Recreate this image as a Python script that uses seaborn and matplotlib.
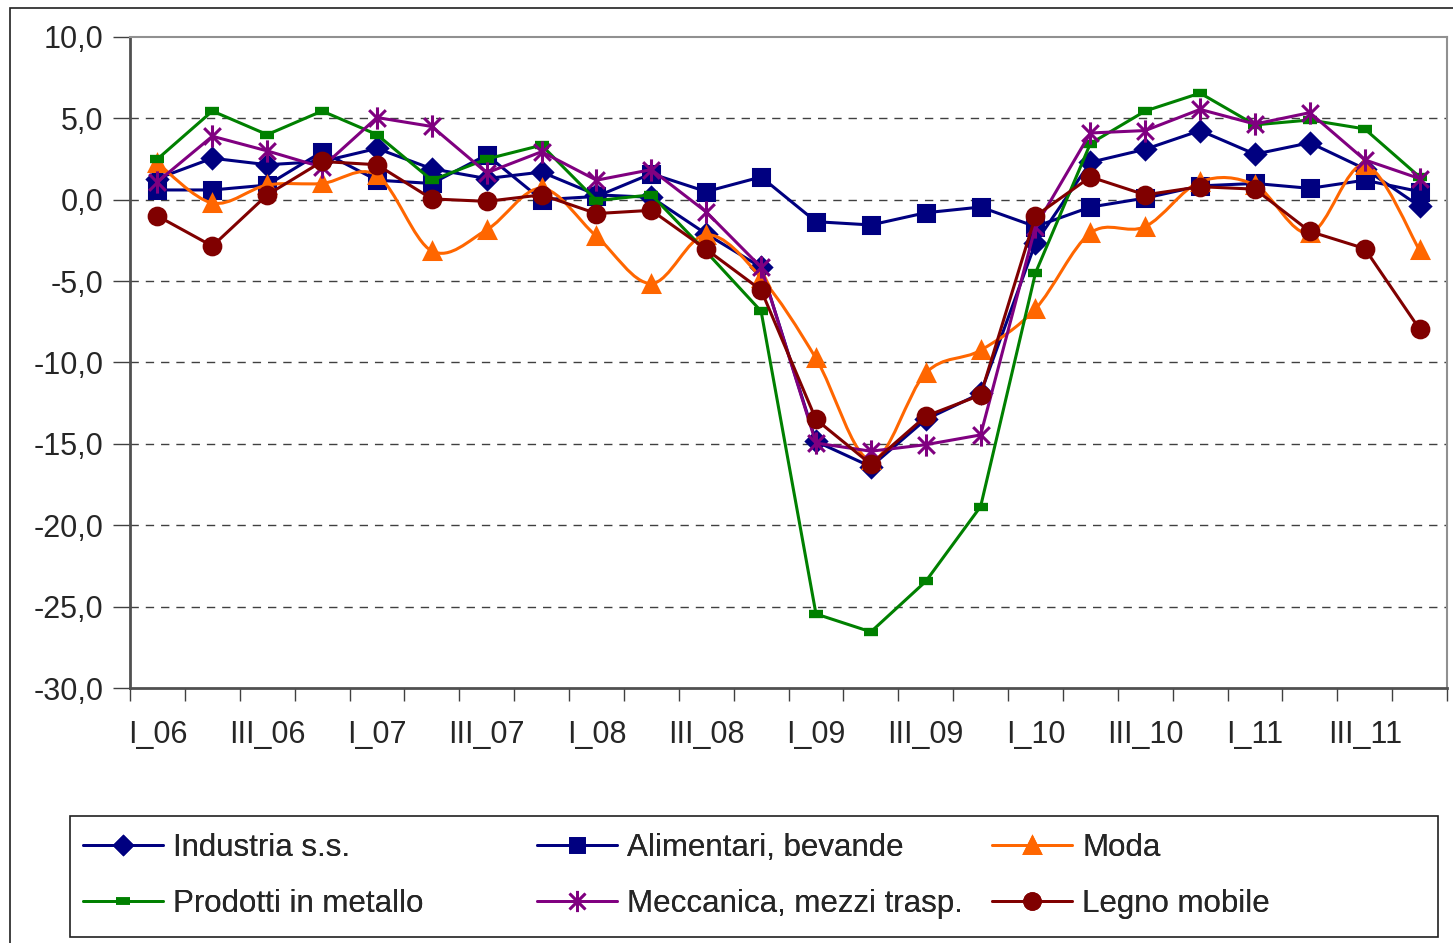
import numpy as np
import pandas as pd
import seaborn as sns
import matplotlib.pyplot as plt
from matplotlib.lines import Line2D
from matplotlib.patches import PathPatch, Rectangle
from matplotlib.path import Path
from matplotlib.ticker import FuncFormatter, FixedLocator

# quarters I_06 .. IV_11
quarters = [f"{q}_{y:02d}" for y in range(6, 12) for q in ["I", "II", "III", "IV"]]

industria = [1.3, 2.55, 2.15, 2.35, 3.15, 1.9, 1.3, 1.7, 0.3, 0.15, -2.1, -4.15,
             -14.85, -16.4, -13.5, -11.9, -2.65, 2.3, 3.1, 4.25, 2.8, 3.5, 1.9, -0.4]
alimentari = [0.6, 0.6, 0.9, 2.95, 1.2, 1.0, 2.75, 0.0, 0.2, 1.6, 0.5, 1.4,
              -1.35, -1.55, -0.8, -0.45, -1.65, -0.45, 0.1, 0.85, 1.0, 0.7, 1.2, 0.5]
moda = [2.25, -0.2, 0.9, 1.0, 1.5, -3.15, -1.85, 0.7, -2.25, -5.15, -2.15, -4.8,
        -9.75, -16.0, -10.65, -9.25, -6.7, -2.05, -1.65, 1.1, 0.9, -2.05, 2.15, -3.1]
prodotti = [2.5, 5.45, 4.0, 5.45, 4.0, 1.2, 2.5, 3.35, -0.05, 0.3, -3.2, -6.85,
            -25.45, -26.55, -23.45, -18.85, -4.5, 3.45, 5.45, 6.55, 4.6, 4.9, 4.35, 1.4]
meccanica = [1.1, 3.9, 3.0, 2.0, 5.05, 4.5, 1.65, 2.95, 1.2, 1.85, -0.75, -4.15,
             -14.95, -15.45, -15.05, -14.45, -1.65, 4.1, 4.25, 5.55, 4.65, 5.35, 2.45, 1.3]
legno = [-1.0, -2.85, 0.3, 2.35, 2.15, 0.05, -0.1, 0.3, -0.85, -0.65, -3.05, -5.55,
         -13.5, -16.25, -13.3, -12.0, -1.0, 1.4, 0.3, 0.8, 0.65, -1.95, -3.0, -7.95]

labels = ["Industria s.s.", "Alimentari, bevande", "Moda",
          "Prodotti in metallo", "Meccanica, mezzi trasp.", "Legno mobile"]
series = [industria, alimentari, moda, prodotti, meccanica, legno]
colors = ["#000080", "#000080", "#FF6600", "#008000", "#800080", "#800000"]

# Excel-like star: vertical bar plus an X
star = Path([(0, -1), (0, 1), (-0.75, -0.75), (0.75, 0.75), (-0.75, 0.75), (0.75, -0.75)],
            [Path.MOVETO, Path.LINETO] * 3)
markers = ["D", "s", "^", "_", star, "o"]
msizes = [10, 11, 12, 10, 16, 12]

sns.set_style("white")
plt.rcParams["font.family"] = ["Liberation Sans", "DejaVu Sans"]


def smooth_path(xs, ys):
    # Excel style smoothed line (cardinal bezier through the points)
    pts = np.column_stack([xs, ys]).astype(float)
    verts = [pts[0]]
    codes = [Path.MOVETO]
    n = len(pts)
    for i in range(n - 1):
        p0 = pts[i - 1] if i > 0 else pts[i]
        p1, p2 = pts[i], pts[i + 1]
        p3 = pts[i + 2] if i + 2 < n else pts[i + 1]
        verts += [p1 + (p2 - p0) / 6, p2 - (p3 - p1) / 6, p2]
        codes += [Path.CURVE4] * 3
    return Path(verts, codes)


fig = plt.figure(figsize=(14.53, 9.43), dpi=100)
ax = fig.add_axes([0.0895, 0.2704, 0.9064, 0.6904])

x = np.arange(len(quarters))
handles = []
for i, (lab, vals) in enumerate(zip(labels, series)):
    mew = 6 if markers[i] == "_" else 2.2
    if lab == "Moda":
        ax.add_patch(PathPatch(smooth_path(x, vals), fill=False, ec=colors[i],
                               lw=2.2, zorder=2 + i))
        sns.lineplot(x=x, y=vals, ax=ax, color=colors[i], lw=0, marker=markers[i],
                     markersize=msizes[i], mec=colors[i], mfc=colors[i], mew=mew,
                     zorder=2 + i)
    else:
        sns.lineplot(x=x, y=vals, ax=ax, color=colors[i], lw=2.2, marker=markers[i],
                     markersize=msizes[i], mec=colors[i], mfc=colors[i], mew=mew,
                     zorder=2 + i)
    handles.append(Line2D([], [], color=colors[i], lw=2, marker=markers[i],
                          markersize=msizes[i] * 0.95, mec=colors[i], mfc=colors[i],
                          mew=mew * 0.9))

ax.set_xlim(-0.5, len(quarters) - 0.5)
ax.set_ylim(-30, 10)
ax.set_xlabel("")
ax.set_ylabel("")

ax.set_yticks(np.arange(-30, 11, 5))
ax.yaxis.set_major_formatter(FuncFormatter(lambda v, p: f"{v:.1f}".replace(".", ",")))
for v in range(-25, 6, 5):
    ax.axhline(v, color="#404040", lw=1, ls=(0, (6, 5)), zorder=1)

ax.set_xticks(x[::2])
ax.set_xticklabels(quarters[::2])
ax.xaxis.set_minor_locator(FixedLocator(np.arange(-0.5, len(quarters), 1)))
ax.tick_params(axis="x", which="major", length=0, pad=23, labelsize=22)
ax.tick_params(axis="x", which="minor", length=9, width=1, color="#404040",
               direction="out", bottom=True)
ax.tick_params(axis="y", length=12, width=1, color="#404040", direction="out",
               pad=7, labelsize=22, left=True)

for s in ["top", "right"]:
    ax.spines[s].set_color("#909090")
    ax.spines[s].set_linewidth(1.5)
for s in ["left", "bottom"]:
    ax.spines[s].set_color("#505050")
    ax.spines[s].set_linewidth(2)

# outer chart frame and legend frame
fig.add_artist(Rectangle((10 / 1453, -0.01), 1.1, 0.9915 + 0.01, transform=fig.transFigure,
                         fill=False, ec="#202020", lw=1.2))
fig.add_artist(Rectangle((70 / 1453, 6 / 943), 1368 / 1453, 121 / 943,
                         transform=fig.transFigure, fill=False, ec="#202020", lw=1.2))

col_x = [83 / 1453, 537 / 1453, 992 / 1453]
for c in range(3):
    leg = fig.legend([handles[c], handles[c + 3]], [labels[c], labels[c + 3]],
                     loc="upper left", bbox_to_anchor=(col_x[c], 0.1167),
                     frameon=False, fontsize=22.5, handlelength=2.56,
                     handletextpad=0.32, labelspacing=0.83, borderpad=0,
                     borderaxespad=0)
    fig.add_artist(leg)

fig.savefig("out.png", dpi=100)
